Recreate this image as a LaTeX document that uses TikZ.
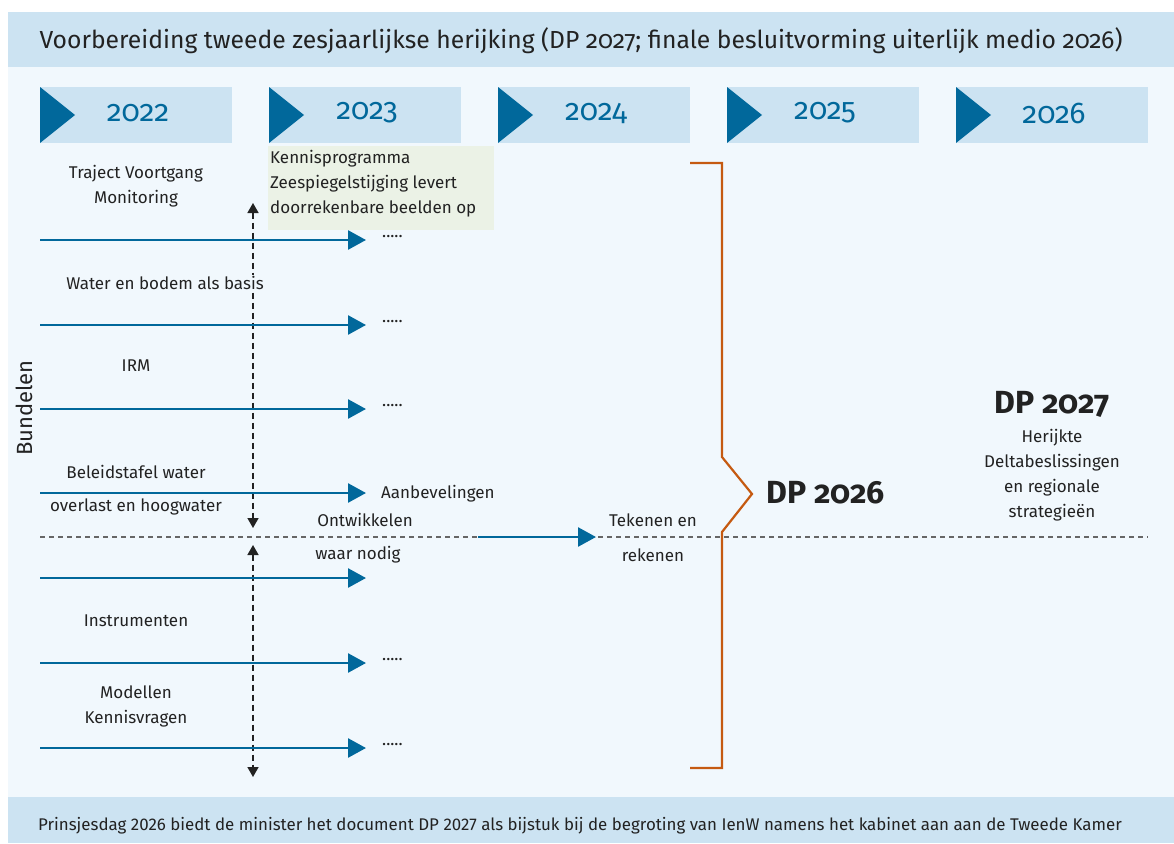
\documentclass[tikz,border=0pt]{standalone}
\usepackage{fontspec}
\setmainfont{Fira Sans}
\newfontfamily\oldnum{Fira Sans}[Numbers=OldStyle]
\usetikzlibrary{arrows.meta}

\definecolor{bandblue}{HTML}{CCE3F2}
\definecolor{bglight}{HTML}{F1F8FD}
\definecolor{rijksblue}{HTML}{01689B}
\definecolor{greenbox}{HTML}{EBF2E6}
\definecolor{bracecol}{HTML}{C55A11}
\definecolor{txtgray}{HTML}{222222}

\tikzset{
  lbl/.style={font=\fontsize{17}{25}\selectfont, text=txtgray, align=center, inner sep=1pt},
  yearlbl/.style={font=\oldnum\fontsize{30}{34}\selectfont, text=rijksblue},
  flow/.style={rijksblue, line width=2.6pt, -{Triangle[length=18pt,width=19pt]}},
  vdash/.style={txtgray, line width=1.6pt, dash pattern=on 6pt off 4pt,
    {Triangle[length=10pt,width=11pt]}-{Triangle[length=10pt,width=11pt]}},
  bigdp/.style={font=\oldnum\bfseries\fontsize{32}{36}\selectfont, text=txtgray}
}

\begin{document}
\begin{tikzpicture}[x=1pt,y=-1pt]
  \useasboundingbox (0,0) rectangle (1174,843);
  % background bands
  \fill[white] (0,0) rectangle (1174,843);
  \fill[bglight] (8,67) rectangle (1174,797);
  \fill[bandblue] (8,12) rectangle (1174,67);
  \fill[bandblue] (8,797) rectangle (1174,843);
  \node[anchor=west, font=\oldnum\fontsize{24.7}{30}\selectfont, text=txtgray] (title) at (36,41)
    {Voorbereiding tweede zesjaarlijkse herijking (DP 2027; finale besluitvorming uiterlijk medio 2026)};
  \node[font=\fontsize{16.9}{20}\selectfont, text=txtgray] (footer) at (580,826)
    {Prinsjesdag 2026 biedt de minister het document DP 2027 als bijstuk bij de begroting van IenW namens het kabinet aan aan de Tweede Kamer};

  % years
  \foreach \i/\yr in {0/2022,1/2023,2/2024,3/2025,4/2026}{
    \fill[bandblue] (40+229*\i,87) rectangle (232+229*\i,143);
    \fill[rijksblue] (40+229*\i,87) -- (75+229*\i,115) -- (40+229*\i,143) -- cycle;
    \node[yearlbl] (y\yr) at (138+229*\i,113) {\yr};
  }

  % kennisprogramma
  \fill[greenbox] (268,146) rectangle (494,230);
  \node[lbl, anchor=west, align=left] (kp) at (269,184)
    {Kennisprogramma\\Zeespiegelstijging levert\\doorrekenbare beelden op};

  % separator
  \draw[gray!80!black, line width=1.2pt, dash pattern=on 5pt off 4pt] (40,537) -- (1148,537);

  % vertical arrows
  \coordinate (vt) at (253,203);
  \coordinate (vm1) at (253,528);
  \coordinate (vm2) at (253,545);
  \coordinate (vb) at (253,777);
  \draw[vdash] (vt) -- (vm1);
  \draw[vdash] (vm2) -- (vb);

  % bundels
  \foreach \y/\n in {240/1,325/2,409/3,493/4,578/5,663/6,748/7}{
    \coordinate (s\n) at (40,\y);
    \coordinate (e\n) at (366,\y);
    \draw[flow] (s\n) -- (e\n);
  }
  \foreach \n in {1,2,3,6,7}{
    \node[lbl, anchor=west] (d\n) at ([xshift=15pt,yshift=3pt]e\n) {.....};
  }
  \node[lbl] (traject) at (136,186) {Traject Voortgang\\Monitoring};
  \node[lbl, fill=bglight] (water) at (165,283) {Water en bodem als basis};
  \node[lbl] (irm) at (136,366) {IRM};
  \node[lbl] (beleid1) at (136,472) {Beleidstafel water};
  \node[lbl] (beleid2) at (136,507) {overlast en hoogwater};
  \node[lbl, anchor=west] (aanbev) at (380,494) {Aanbevelingen};
  \node[lbl] (ontw1) at (365,520) {Ontwikkelen};
  \node[lbl] (ontw2) at (358,555) {waar nodig};
  \node[lbl] (instr) at (136,621) {Instrumenten};
  \node[lbl] (model) at (136,706) {Modellen\\Kennisvragen};
  \node[lbl, rotate=90, font=\fontsize{22}{26}\selectfont] (bundelen) at (24,408) {Bundelen};

  % tekenen en rekenen
  \coordinate (tr1) at (478,537);
  \coordinate (tr2) at (596,537);
  \draw[flow] (tr1) -- (tr2);
  \node[lbl] (teken1) at (653,520) {Tekenen en};
  \node[lbl] (teken2) at (653,555) {rekenen};

  % brace
  \draw[bracecol, line width=2.2pt, line join=miter] (690,163) -- (722,163) -- (722,457)
    -- (752,494) -- (722,532) -- (722,768) -- (690,768);
  \node[bigdp, anchor=west] (dp26) at (763,493) {DP 2026};

  % DP 2027
  \node[bigdp] (dp27) at (1052,404) {DP 2027};
  \node[lbl] (herijkt) at (1052,475)
    {Herijkte\\Deltabeslissingen\\en regionale\\strategieën};
\end{tikzpicture}
\end{document}
